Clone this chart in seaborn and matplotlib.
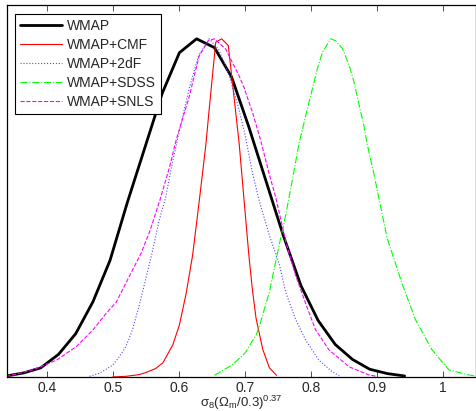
import matplotlib
matplotlib.use("Agg")
import matplotlib.pyplot as plt
import seaborn as sns
import pandas as pd

# curve samples (normalised to peak = 1)
wmap_x = [0.339, 0.365, 0.391, 0.418, 0.444, 0.470, 0.496, 0.522, 0.549, 0.575,
          0.601, 0.627, 0.654, 0.680, 0.706, 0.732, 0.758, 0.785, 0.811, 0.837,
          0.863, 0.889, 0.916, 0.942]
wmap_y = [0.003, 0.012, 0.027, 0.067, 0.128, 0.222, 0.345, 0.515, 0.68, 0.839,
          0.959, 1.0, 0.974, 0.887, 0.74, 0.58, 0.42, 0.27, 0.167, 0.096,
          0.052, 0.023, 0.010, 0.003]

cmf_x = [0.500, 0.520, 0.540, 0.550, 0.565, 0.576, 0.591, 0.601, 0.611, 0.621,
         0.631, 0.641, 0.646, 0.651, 0.656, 0.665, 0.675, 0.683, 0.6915, 0.699,
         0.7066, 0.712, 0.717, 0.727, 0.737, 0.748]
cmf_y = [0.000, 0.002, 0.007, 0.013, 0.025, 0.042, 0.095, 0.154, 0.245, 0.36,
         0.52, 0.686, 0.79, 0.89, 0.99, 1.0, 0.98, 0.84, 0.69, 0.52,
         0.35, 0.25, 0.174, 0.083, 0.028, 0.005]

df2_x = [0.465, 0.480, 0.500, 0.510, 0.520, 0.530, 0.540, 0.550, 0.560, 0.570,
         0.580, 0.590, 0.600, 0.616, 0.630, 0.646, 0.660, 0.675, 0.690, 0.700,
         0.712, 0.722, 0.737, 0.752, 0.762, 0.777, 0.792, 0.812, 0.832, 0.843]
df2_y = [0.002, 0.011, 0.035, 0.06, 0.09, 0.14, 0.21, 0.29, 0.37, 0.46,
         0.53, 0.63, 0.72, 0.855, 0.95, 1.0, 0.97, 0.90, 0.80, 0.72,
         0.60, 0.52, 0.42, 0.335, 0.25, 0.17, 0.11, 0.05, 0.016, 0.004]

sdss_x = [0.654, 0.681, 0.700, 0.717, 0.722, 0.737, 0.752, 0.762, 0.772, 0.782,
          0.795, 0.810, 0.8175, 0.830, 0.8376, 0.8476, 0.8577, 0.865, 0.873, 0.880,
          0.885, 0.8955, 0.9056, 0.9156, 0.923, 0.938, 0.9585, 0.9835, 1.009, 1.039,
          1.050]
sdss_y = [0.005, 0.036, 0.07, 0.124, 0.15, 0.25, 0.39, 0.48, 0.583, 0.69,
          0.795, 0.913, 0.96, 1.0, 0.994, 0.972, 0.923, 0.874, 0.805, 0.746,
          0.691, 0.60, 0.504, 0.41, 0.366, 0.277, 0.169, 0.08, 0.021, 0.006,
          0.003]

snls_x = [0.339, 0.349, 0.379, 0.415, 0.445, 0.470, 0.490, 0.505, 0.525, 0.543,
          0.556, 0.571, 0.586, 0.596, 0.616, 0.631, 0.645, 0.654, 0.671, 0.6915,
          0.699, 0.712, 0.724, 0.737, 0.747, 0.762, 0.777, 0.792, 0.807, 0.8275,
          0.858, 0.888, 0.900]
snls_y = [0.002, 0.006, 0.021, 0.05, 0.09, 0.139, 0.188, 0.22, 0.297, 0.366,
          0.43, 0.52, 0.62, 0.70, 0.83, 0.95, 0.995, 1.0, 0.97, 0.89,
          0.855, 0.78, 0.70, 0.60, 0.53, 0.40, 0.30, 0.218, 0.14, 0.08,
          0.03, 0.006, 0.002]

xticks = [0.4, 0.5, 0.6, 0.7, 0.8, 0.9, 1.0]
xtick_labels = ["0.4", "0.5", "0.6", "0.7", "0.8", "0.9", "1"]

sns.set_style("white")
plt.rcParams["font.family"] = ["Liberation Sans", "DejaVu Sans"]
plt.rcParams["mathtext.fontset"] = "custom"
plt.rcParams["mathtext.rm"] = "Liberation Sans"
plt.rcParams["mathtext.it"] = "Liberation Sans"

fig = plt.figure(figsize=(4.77, 4.11), dpi=100)
ax = fig.add_axes([7 / 477, 34 / 411, 469 / 477, 372 / 411])

series = [
    ("WMAP", wmap_x, wmap_y, "black", "-", 2.0),
    ("WMAP+CMF", cmf_x, cmf_y, "red", "-", 0.8),
    ("WMAP+2dF", df2_x, df2_y, "#4848ff", ":", 0.8),
    ("WMAP+SDSS", sdss_x, sdss_y, "lime", "-.", 0.8),
    ("WMAP+SNLS", snls_x, snls_y, "magenta", "--", 0.8),
]
for name, xs, ys, col, ls, lw in series:
    df = pd.DataFrame({"x": xs, "y": ys})
    sns.lineplot(data=df, x="x", y="y", color=col, linestyle=ls, linewidth=lw,
                 label=name, estimator=None, sort=False, ax=ax)

ax.set_xlim(0.34, 1.05)
ax.set_ylim(0, 1.1)
ax.set_xticks(xticks)
ax.set_xticklabels(xtick_labels, fontsize=10)
ax.set_yticks([])
ax.tick_params(axis="x", direction="in", top=True, bottom=True, length=4,
               width=0.6, color="#333333", pad=3)
for sp in ax.spines.values():
    sp.set_color("black")
    sp.set_linewidth(0.9)
ax.set_xlabel(r"$\mathrm{\sigma_8(\Omega_m/0.3)^{0.37}}$", fontsize=9.5, labelpad=-1)
ax.set_ylabel("")

leg = ax.legend(loc="upper left", bbox_to_anchor=(0.017, 0.975), fontsize=10,
                frameon=True, fancybox=False, framealpha=1, edgecolor="black",
                handlelength=3.0, handletextpad=0.4, labelspacing=0.36,
                borderpad=0.35, borderaxespad=0)
leg.get_frame().set_linewidth(0.8)

fig.savefig("out.png", dpi=100)
